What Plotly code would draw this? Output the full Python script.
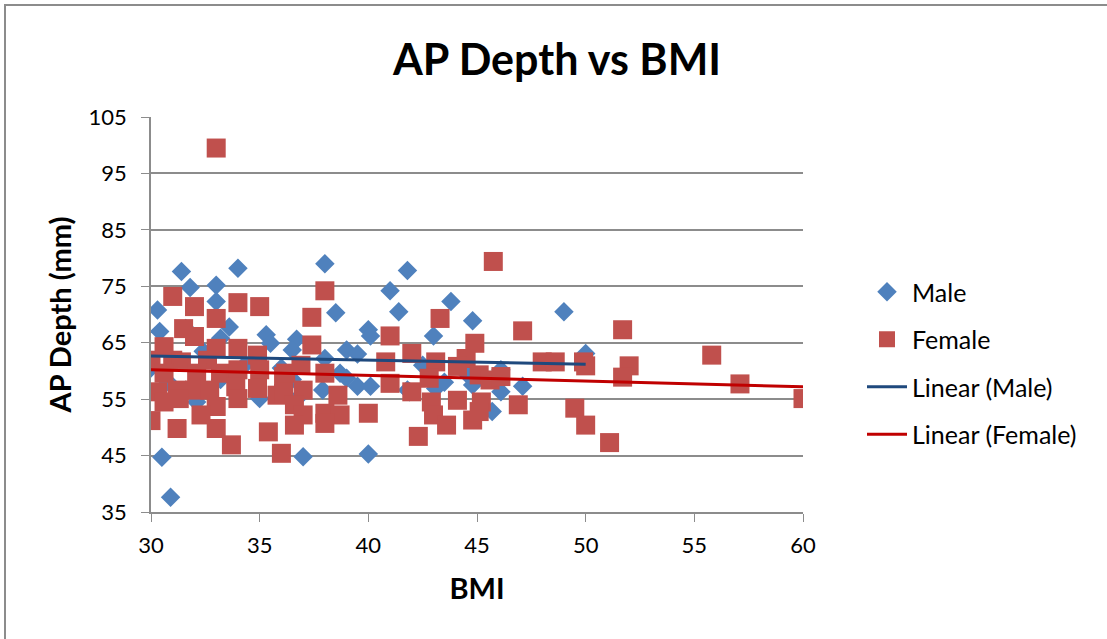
import plotly.graph_objects as go

male_bmi = [31.4, 34.0, 31.8, 33.0, 30.3, 33.0, 33.6, 30.4, 35.3, 35.5, 33.2, 30.5, 30.9, 32.1, 35.0, 30.0,
            38.0, 41.8, 38.5, 41.0, 41.4, 40.0, 40.1, 36.7, 36.5, 39.0, 39.5, 38.0, 38.7, 39.0, 39.5, 40.1,
            37.9, 41.8, 37.0, 40.0, 36.0, 36.8, 43.8, 44.8, 43.0, 47.1, 45.7, 46.1, 41.9, 43.1, 44.5, 44.8,
            46.1, 49.0, 50.0, 31.6, 32.4, 34.3, 30.8, 36.5, 42.5, 43.5, 33.2]
male_ap = [77.6, 78.2, 74.8, 75.2, 70.8, 72.3, 67.8, 67.0, 66.4, 64.9, 65.8, 44.7, 37.6, 54.5, 55.1, 60.5,
           79.0, 77.8, 70.3, 74.2, 70.5, 67.3, 66.2, 65.6, 63.7, 63.7, 63.0, 62.2, 59.6, 58.7, 57.3, 57.3,
           56.6, 56.6, 44.8, 45.3, 60.5, 55.4, 72.3, 68.9, 66.2, 57.3, 52.8, 56.3, 56.3, 56.9, 59.6, 57.5,
           60.2, 70.5, 63.1, 67.5, 63.5, 61.0, 58.0, 58.5, 61.0, 58.0, 58.5]

female_bmi = [33.0, 31.0, 32.0, 34.0, 35.0, 33.0, 31.5, 32.0, 30.6, 33.0, 34.0, 34.9, 30.0, 31.0, 31.4, 32.6,
              30.6, 32.1, 33.2, 34.0, 35.0, 30.3, 31.2, 32.0, 32.7, 33.9, 34.9, 35.8, 30.6, 31.3, 34.0, 33.0,
              30.0, 32.3, 31.2, 33.0, 35.4, 33.7, 36.0, 36.1, 38.0, 37.4, 37.4, 41.0, 36.9, 38.0, 40.8, 42.0,
              36.2, 37.0, 36.1, 38.6, 41.0, 42.0, 36.6, 37.0, 38.0, 38.7, 36.6, 38.0, 40.0, 42.3, 45.75, 43.3,
              47.1, 44.9, 43.1, 44.5, 44.1, 45.1, 45.6, 46.1, 42.8, 42.9, 44.1, 45.2, 43.0, 43.6, 44.8, 45.1,
              46.9, 48.0, 51.7, 48.6, 49.9, 50.0, 52.0, 51.7, 55.8, 57.1, 60.0, 49.5, 50.0, 51.1]
female_ap = [99.5, 73.2, 71.4, 72.1, 71.4, 69.3, 67.5, 66.1, 64.3, 64.0, 64.0, 62.8, 61.9, 61.9, 61.6, 61.9,
             59.6, 59.6, 59.6, 60.2, 60.2, 56.3, 56.6, 56.6, 56.6, 57.2, 56.9, 55.7, 54.5, 55.1, 55.1, 53.7,
             51.2, 52.2, 49.8, 49.8, 49.2, 46.9, 45.4, 59.0, 74.2, 69.5, 64.6, 66.2, 61.0, 59.6, 61.6, 63.1,
             59.6, 56.6, 56.0, 55.7, 57.8, 56.3, 54.0, 52.2, 52.5, 52.2, 50.4, 50.7, 52.5, 48.4, 79.4, 69.3,
             67.1, 64.9, 61.6, 62.2, 60.8, 59.3, 58.4, 59.0, 58.7, 54.5, 54.8, 54.5, 52.2, 50.4, 51.3, 52.8,
             54.0, 61.6, 67.3, 61.6, 61.6, 60.9, 60.9, 58.9, 62.8, 57.7, 55.1, 53.4, 50.4, 47.3]

male_trend_x = [30, 50]
male_trend_y = [62.65, 61.2]
female_trend_x = [30, 60]
female_trend_y = [60.2, 57.2]

x_ticks = [30, 35, 40, 45, 50, 55, 60]
y_ticks = [35, 45, 55, 65, 75, 85, 95, 105]

FONT = "Lato, 'Open Sans', sans-serif"
W, H = 1107, 639
L, R, T, B = 151, 304, 117, 127
PW, PH = W - L - R, H - T - B

fig = go.Figure()
fig.add_trace(go.Scatter(x=male_bmi, y=male_ap, mode="markers", name="Male", legendgroup="a",
                         marker=dict(symbol="diamond", size=15, color="#4F81BD", line=dict(width=0))))
fig.add_trace(go.Scatter(x=female_bmi, y=female_ap, mode="markers", name="Female", legendgroup="b",
                         marker=dict(symbol="square", size=19, color="#C0504D", line=dict(width=0))))
fig.add_trace(go.Scatter(x=male_trend_x, y=male_trend_y, mode="lines", name="Linear (Male)", legendgroup="c",
                         line=dict(color="#1F497D", width=3)))
fig.add_trace(go.Scatter(x=female_trend_x, y=female_trend_y, mode="lines", name="Linear (Female)", legendgroup="d",
                         line=dict(color="#C00000", width=3)))

fig.update_layout(
    width=W, height=H,
    margin=dict(l=L, r=R, t=T, b=B),
    paper_bgcolor="white", plot_bgcolor="white",
    font=dict(family=FONT, color="black", size=22),
    title=dict(text="<b>AP Depth vs BMI</b>", x=557 / W, xanchor="center", y=1 - 60 / H, yanchor="middle",
               font=dict(size=43, family=FONT)),
    showlegend=True,
    legend=dict(x=(862 - L) / PW, xanchor="left", y=1 - (363 - T) / PH, yanchor="middle",
                font=dict(size=25, family=FONT),
                tracegroupgap=12, traceorder="grouped", bgcolor="rgba(0,0,0,0)", itemwidth=40),
    xaxis=dict(range=[30, 60], tickvals=x_ticks, showgrid=False, zeroline=False,
               showline=True, linecolor="#8C8C8C", linewidth=1.5, ticks="outside", ticklen=8, tickcolor="#8C8C8C",
               ticklabelstandoff=5,
               tickfont=dict(size=22), title=dict(text="<b>BMI</b>", font=dict(size=29), standoff=22)),
    yaxis=dict(range=[35, 105], tickvals=y_ticks, showgrid=True, gridcolor="#8C8C8C", gridwidth=1.5, zeroline=False,
               showline=True, linecolor="#8C8C8C", linewidth=1.5, ticks="outside", ticklen=8, tickcolor="#8C8C8C",
               ticklabelstandoff=10,
               tickfont=dict(size=22), title=dict(text="<b>AP Depth (mm)</b>", font=dict(size=29), standoff=8)),
)

# outer chart border (left and top edges visible, rest runs off the picture)
fig.add_shape(type="rect", xref="paper", yref="paper",
              x0=(5 - L) / PW, x1=(W + 10 - L) / PW, y0=(H - (H + 10) - B) / PH, y1=(H - 5 - B) / PH,
              line=dict(color="#8C8C8C", width=2), fillcolor="rgba(0,0,0,0)", layer="below")

fig.write_html("out.html", config={"displayModeBar": False},
               post_script="document.body.style.margin='0px';")
